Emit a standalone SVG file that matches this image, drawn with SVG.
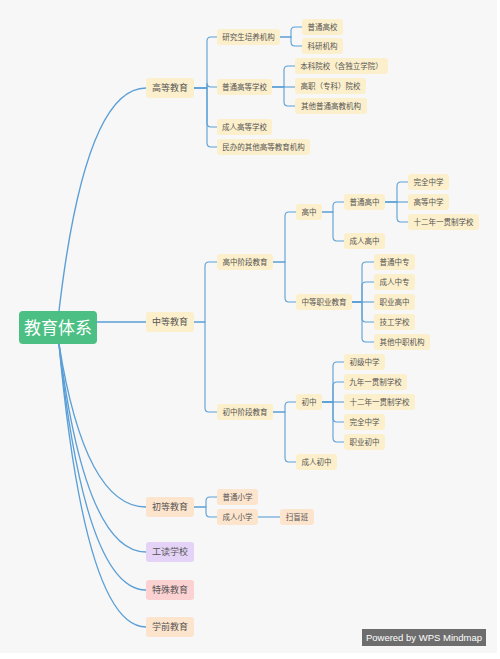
<svg xmlns="http://www.w3.org/2000/svg" width="500" height="659" viewBox="0 0 500 659">
<style>
.bg{fill:#f7f7f7}
.y{fill:#fcefcb}
.p{fill:#fde4cd}
.pu{fill:#e4d3f6}
.pk{fill:#fcd1d1}
.root{fill:#4cbf84}
text{font-family:"Noto Sans CJK SC","Noto Sans",sans-serif;fill:#555;text-anchor:middle}
.t1{font-size:9px}
.t{font-size:7.5px}
.tr{font-size:17px;fill:#fff}
.c{fill:none;stroke:#5b9fd6;stroke-width:1.1}
.cm{fill:none;stroke:#5b9fd6;stroke-width:1.4}
</style>
<rect width="500" height="659" fill="#fff"/>
<rect class="bg" x="0" y="0" width="497" height="653"/>
<g id="connectors">
<path class="cm" d="M59,311 Q85,88 146,88"/>
<path class="cm" d="M97,322 H146"/>
<path class="cm" d="M59,344 Q85,507 146,507"/>
<path class="cm" d="M59,344 Q85,552 146,552"/>
<path class="cm" d="M59,344 Q85,590 146,590"/>
<path class="cm" d="M59,344 Q85,627 146,627"/>
<!-- 高等教育 -->
<path class="c" d="M194,88 H207 V41 Q207,37 211,37 H217"/>
<path class="c" d="M194,88 H207 V83 Q207,87 211,87 H217"/>
<path class="c" d="M194,88 H207 V123 Q207,127 211,127 H217"/>
<path class="c" d="M194,88 H207 V143 Q207,147 211,147 H217"/>
<path class="c" d="M280,37 H291 V31 Q291,27 295,27 H302"/>
<path class="c" d="M280,37 H291 V42 Q291,46 295,46 H302"/>
<path class="c" d="M272,87 H284 V70 Q284,66 288,66 H295"/>
<path class="c" d="M272,87 H295"/>
<path class="c" d="M272,87 H284 V102 Q284,106 288,106 H295"/>
<!-- 中等教育 -->
<path class="c" d="M194,322 H205 V266 Q205,262 209,262 H217"/>
<path class="c" d="M194,322 H205 V408 Q205,412 209,412 H217"/>
<path class="c" d="M273,262 H285 V216 Q285,212 289,212 H296"/>
<path class="c" d="M273,262 H285 V298 Q285,302 289,302 H296"/>
<path class="c" d="M322,212 H333 V206 Q333,202 337,202 H344"/>
<path class="c" d="M322,212 H333 V237 Q333,241 337,241 H344"/>
<path class="c" d="M385,202 H397 V186 Q397,182 401,182 H408"/>
<path class="c" d="M385,202 H408"/>
<path class="c" d="M385,202 H397 V218 Q397,222 401,222 H408"/>
<path class="c" d="M352,302 H362 V266 Q362,262 366,262 H374"/>
<path class="c" d="M352,302 H362 V286 Q362,282 366,282 H374"/>
<path class="c" d="M352,302 H374"/>
<path class="c" d="M352,302 H362 V318 Q362,322 366,322 H374"/>
<path class="c" d="M352,302 H362 V338 Q362,342 366,342 H374"/>
<path class="c" d="M273,412 H285 V406 Q285,402 289,402 H296"/>
<path class="c" d="M273,412 H285 V458 Q285,462 289,462 H296"/>
<path class="c" d="M322,402 H333 V366 Q333,362 337,362 H344"/>
<path class="c" d="M322,402 H333 V386 Q333,382 337,382 H344"/>
<path class="c" d="M322,402 H344"/>
<path class="c" d="M322,402 H333 V418 Q333,422 337,422 H344"/>
<path class="c" d="M322,402 H333 V438 Q333,442 337,442 H344"/>
<!-- 初等教育 -->
<path class="c" d="M194,507 H206 V501 Q206,497 210,497 H217"/>
<path class="c" d="M194,507 H206 V513 Q206,517 210,517 H217"/>
<path class="c" d="M258,517 H280"/>
</g>
<g id="root"><rect class="root" x="19" y="311" width="78" height="33" rx="4"/><text class="tr" x="58" y="334">教育体系</text></g>
<g id="n-gaodeng"><rect class="y" x="146" y="78" width="48" height="20" rx="3"/><text class="t1" x="170" y="91">高等教育</text></g>
<g id="n-zhongdeng"><rect class="y" x="146" y="312" width="48" height="20" rx="3"/><text class="t1" x="170" y="325">中等教育</text></g>
<g id="n-chudeng"><rect class="p" x="146" y="497" width="48" height="20" rx="3"/><text class="t1" x="170" y="510">初等教育</text></g>
<g id="n-gongdu"><rect class="pu" x="146" y="542" width="48" height="20" rx="3"/><text class="t1" x="170" y="555">工读学校</text></g>
<g id="n-teshu"><rect class="pk" x="146" y="580" width="48" height="20" rx="3"/><text class="t1" x="170" y="593">特殊教育</text></g>
<g id="n-xueqian"><rect class="p" x="146" y="617" width="48" height="20" rx="3"/><text class="t1" x="170" y="630">学前教育</text></g>

<g id="n-yjs"><rect class="y" x="217" y="29" width="63" height="16" rx="3"/><text class="t" x="248.5" y="39.6">研究生培养机构</text></g>
<g id="n-pthx"><rect class="y" x="217" y="79" width="55" height="16" rx="3"/><text class="t" x="244.5" y="89.6">普通高等学校</text></g>
<g id="n-crgd"><rect class="y" x="217" y="119" width="55" height="16" rx="3"/><text class="t" x="244.5" y="129.6">成人高等学校</text></g>
<g id="n-mb"><rect class="y" x="217" y="139" width="93" height="16" rx="3"/><text class="t" x="263.5" y="149.6">民办的其他高等教育机构</text></g>
<g id="n-ptgx"><rect class="y" x="302" y="19" width="41" height="16" rx="3"/><text class="t" x="322.5" y="29.6">普通高校</text></g>
<g id="n-kyjg"><rect class="y" x="302" y="38" width="41" height="16" rx="3"/><text class="t" x="322.5" y="48.6">科研机构</text></g>
<g id="n-bk"><rect class="y" x="295" y="58" width="93" height="16" rx="3"/><text class="t" x="341.5" y="68.6">本科院校（含独立学院）</text></g>
<g id="n-gz"><rect class="y" x="295" y="78" width="71" height="16" rx="3"/><text class="t" x="330.5" y="88.6">高职（专科）院校</text></g>
<g id="n-qtgj"><rect class="y" x="295" y="98" width="72" height="16" rx="3"/><text class="t" x="331" y="108.6">其他普通高教机构</text></g>

<g id="n-gzjd"><rect class="y" x="217" y="254" width="56" height="16" rx="3"/><text class="t" x="245" y="264.6">高中阶段教育</text></g>
<g id="n-czjd"><rect class="y" x="217" y="404" width="56" height="16" rx="3"/><text class="t" x="245" y="414.6">初中阶段教育</text></g>
<g id="n-gaozhong"><rect class="y" x="296" y="204" width="26" height="16" rx="3"/><text class="t" x="309" y="214.6">高中</text></g>
<g id="n-zdzy"><rect class="y" x="296" y="294" width="56" height="16" rx="3"/><text class="t" x="324" y="304.6">中等职业教育</text></g>
<g id="n-ptgz"><rect class="y" x="344" y="194" width="41" height="16" rx="3"/><text class="t" x="364.5" y="204.6">普通高中</text></g>
<g id="n-crgz"><rect class="y" x="344" y="233" width="41" height="16" rx="3"/><text class="t" x="364.5" y="243.6">成人高中</text></g>
<g id="n-wqzx1"><rect class="y" x="408" y="174" width="41" height="16" rx="3"/><text class="t" x="428.5" y="184.6">完全中学</text></g>
<g id="n-gdzx"><rect class="y" x="408" y="194" width="41" height="16" rx="3"/><text class="t" x="428.5" y="204.6">高等中学</text></g>
<g id="n-12n1"><rect class="y" x="408" y="214" width="71" height="16" rx="3"/><text class="t" x="443.5" y="224.6">十二年一贯制学校</text></g>
<g id="n-ptzz"><rect class="y" x="374" y="254" width="41" height="16" rx="3"/><text class="t" x="394.5" y="264.6">普通中专</text></g>
<g id="n-crzz"><rect class="y" x="374" y="274" width="41" height="16" rx="3"/><text class="t" x="394.5" y="284.6">成人中专</text></g>
<g id="n-zygz"><rect class="y" x="374" y="294" width="41" height="16" rx="3"/><text class="t" x="394.5" y="304.6">职业高中</text></g>
<g id="n-jgxx"><rect class="y" x="374" y="314" width="41" height="16" rx="3"/><text class="t" x="394.5" y="324.6">技工学校</text></g>
<g id="n-qtzz"><rect class="y" x="374" y="334" width="56" height="16" rx="3"/><text class="t" x="402" y="344.6">其他中职机构</text></g>
<g id="n-chuzhong"><rect class="y" x="296" y="394" width="26" height="16" rx="3"/><text class="t" x="309" y="404.6">初中</text></g>
<g id="n-crcz"><rect class="y" x="296" y="454" width="41" height="16" rx="3"/><text class="t" x="316.5" y="464.6">成人初中</text></g>
<g id="n-cjzx"><rect class="y" x="344" y="354" width="41" height="16" rx="3"/><text class="t" x="364.5" y="364.6">初级中学</text></g>
<g id="n-9n"><rect class="y" x="344" y="374" width="63" height="16" rx="3"/><text class="t" x="375.5" y="384.6">九年一贯制学校</text></g>
<g id="n-12n2"><rect class="y" x="344" y="394" width="71" height="16" rx="3"/><text class="t" x="379.5" y="404.6">十二年一贯制学校</text></g>
<g id="n-wqzx2"><rect class="y" x="344" y="414" width="41" height="16" rx="3"/><text class="t" x="364.5" y="424.6">完全中学</text></g>
<g id="n-zycz"><rect class="y" x="344" y="434" width="41" height="16" rx="3"/><text class="t" x="364.5" y="444.6">职业初中</text></g>

<g id="n-ptxx"><rect class="p" x="217" y="489" width="41" height="16" rx="3"/><text class="t" x="237.5" y="499.6">普通小学</text></g>
<g id="n-crxx"><rect class="p" x="217" y="509" width="41" height="16" rx="3"/><text class="t" x="237.5" y="519.6">成人小学</text></g>
<g id="n-smb"><rect class="p" x="280" y="509" width="34" height="16" rx="3"/><text class="t" x="297" y="519.6">扫盲班</text></g>

<g id="watermark"><rect x="362" y="629" width="124" height="17" fill="#6d6d6d"/><text x="424" y="641" style="font-family:'Liberation Sans',Arial,sans-serif;font-size:9.5px;fill:#fff">Powered by WPS Mindmap</text></g>
</svg>
